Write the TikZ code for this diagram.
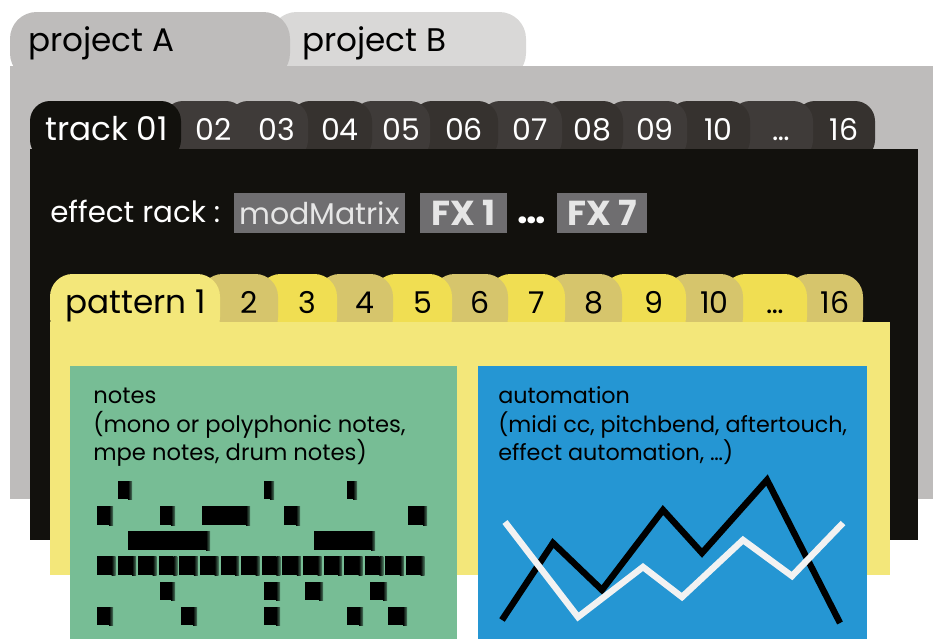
\documentclass[tikz,border=0pt]{standalone}
\usepackage{fontspec}
\setmainfont{Poppins}
\definecolor{projbody}{HTML}{BEBCBB}
\definecolor{projB}{HTML}{D9D8D7}
\definecolor{trackbody}{HTML}{12110D}
\definecolor{tabA}{HTML}{3F3B39}
\definecolor{tabB}{HTML}{36322F}
\definecolor{fxbox}{HTML}{6F6E70}
\definecolor{fxtext}{HTML}{E6E6E6}
\definecolor{patbody}{HTML}{F3E77A}
\definecolor{patkhaki}{HTML}{D6C56C}
\definecolor{patyellow}{HTML}{F0DE52}
\definecolor{notesgreen}{HTML}{77BD95}
\definecolor{autoblue}{HTML}{2596D3}
\definecolor{linewhite}{HTML}{F2F2F2}
\newcommand\fsz[1]{\fontsize{#1}{#1}\selectfont}
\newcommand\nblock[4]{%
  \fill[black] (#1,#2) rectangle ({#1+#3-4},{#2+#4});
  \shade[left color=black, right color=black!35!notesgreen] ({#1+#3-4},#2) rectangle ({#1+#3},{#2+#4});}
\begin{document}
\begin{tikzpicture}[x=0.75pt,y=-0.75pt,
  lbl/.style={inner sep=0pt, anchor=base west},
  tablbl/.style={inner sep=0pt, anchor=base, font=\fsz{22.5}},
  fxb/.style={fill=fxbox, text=fxtext, inner sep=0pt, minimum height=30pt},
  autoline/.style={line width=4.8pt, line join=miter, line cap=butt}]
\useasboundingbox (0,0) rectangle (933,639);
% project layer
\fill[projB, rounded corners=20] (270,80) -- (270,12) -- (526,12) -- (526,80) -- cycle;
\fill[projbody, rounded corners=20] (10,80) -- (10,12) -- (290,12) -- (290,80) -- cycle;
\fill[projbody] (10,66) rectangle (933,499);
\node[lbl, font=\fsz{24.5}] (pA) at (28,51) {project A};
\node[lbl, font=\fsz{24.5}] (pB) at (302,51) {project B};
% track layer tabs
\foreach \a/\b/\c in {795/875/tabB,730/813/tabA,668/750/tabB,605/687/tabA,542/623/tabB,480/562/tabA,412/498/tabB,352/430/tabA,290/372/tabB,228/308/tabA,163/246/tabA}{
  \fill[\c, rounded corners=15] (\a,160) -- (\a,101) -- (\b,101) -- (\b,160) -- cycle;
}
\fill[trackbody, rounded corners=15] (30,160) -- (30,101) -- (181,101) -- (181,160) -- cycle;
\fill[trackbody] (30,149) rectangle (918,540);
\node[lbl, font=\fsz{24.5}, text=white] (t01) at (45,140) {track 01};
\foreach \x/\t [count=\i] in {213.5/02,277/03,340/04,401/05,464/06,530/07,592.5/08,655/09,718.5/10,781.5/\dots,844/16}{
  \node[tablbl, text=white] (tt\i) at (\x,140) {\t};
}
% effect rack
\node[lbl, font=\fsz{22}, text=white] (er) at (50,222) {effect rack :};
\node[fxb, minimum width=128.25pt, font=\fsz{22.5}] (mm) at (319.5,213) {modMatrix};
\node[fxb, minimum width=65.25pt, font=\bfseries\fsz{26}] (fx1) at (463.5,213) {FX 1};
\node[inner sep=0pt, anchor=base, font=\bfseries\fsz{28}, text=white] (dots) at (532,223) {\dots};
\node[fxb, minimum width=67.5pt, font=\bfseries\fsz{26}] (fx7) at (602,213) {FX 7};
% pattern tabs
\foreach \a/\b/\c in {787/863/patkhaki,723/807/patyellow,666/743/patkhaki,602/686/patyellow,545/622/patkhaki,488/565/patyellow,432/508/patkhaki,373/452/patyellow,317/393/patkhaki,258/337/patyellow,200/278/patkhaki}{
  \fill[\c, rounded corners=17] (\a,340) -- (\a,274) -- (\b,274) -- (\b,340) -- cycle;
}
\fill[patbody, rounded corners=17] (50,340) -- (50,274) -- (220,274) -- (220,340) -- cycle;
\fill[patbody] (50,322) rectangle (890,575);
\node[lbl, font=\fsz{24.5}] (p1) at (65,313) {pattern 1};
\foreach \x/\t [count=\i] in {249/2,307.5/3,365/4,422.5/5,480/6,536.5/7,593.5/8,654/9,714.5/10,775/\dots,835/16}{
  \node[tablbl] (pt\i) at (\x,313) {\t};
}
% notes box
\fill[notesgreen] (70,366) rectangle (457,639);
\node[lbl, font=\fsz{17}] (n1) at (93,403) {notes};
\node[lbl, font=\fsz{17}] (n2) at (93,432) {(mono or polyphonic notes,};
\node[lbl, font=\fsz{17}] (n3) at (93,460) {mpe notes, drum notes)};
% automation box
\fill[autoblue] (478,366) rectangle (867,639);
\node[lbl, font=\fsz{16.7}] (a1) at (498,403) {automation};
\node[lbl, font=\fsz{16.7}] (a2) at (498,432) {(midi cc, pitchbend, aftertouch,};
\node[lbl, font=\fsz{16.7}] (a3) at (498,460) {effect automation, \dots)};
% piano roll
\foreach \x/\w in {118/14,264/10,347/10}{\nblock{\x}{481}{\w}{18}}
\foreach \x/\w in {97/16,160/15,202/48,284/16,408/19}{\nblock{\x}{506}{\w}{19}}
\foreach \x/\w in {128/82,314/61}{\nblock{\x}{531}{\w}{19}}
\foreach \i in {0,...,15}{\nblock{97+20.6*\i}{556}{18.5}{19}}
\foreach \x/\w in {160/15,264/16,305/18,370/17}{\nblock{\x}{582}{\w}{18}}
\foreach \x/\w in {97/16,181/16,264/16,347/16,388/19}{\nblock{\x}{607}{\w}{18}}
% automation lines
\draw[autoline, black] (502,620) -- (553,543) -- (602,590) -- (663,510) -- (702,553) -- (767,480) -- (840,623);
\draw[autoline, linewhite] (505,522) -- (578,617) -- (643,567) -- (682,597) -- (743,540) -- (792,576) -- (843,523);
\end{tikzpicture}
\end{document}
